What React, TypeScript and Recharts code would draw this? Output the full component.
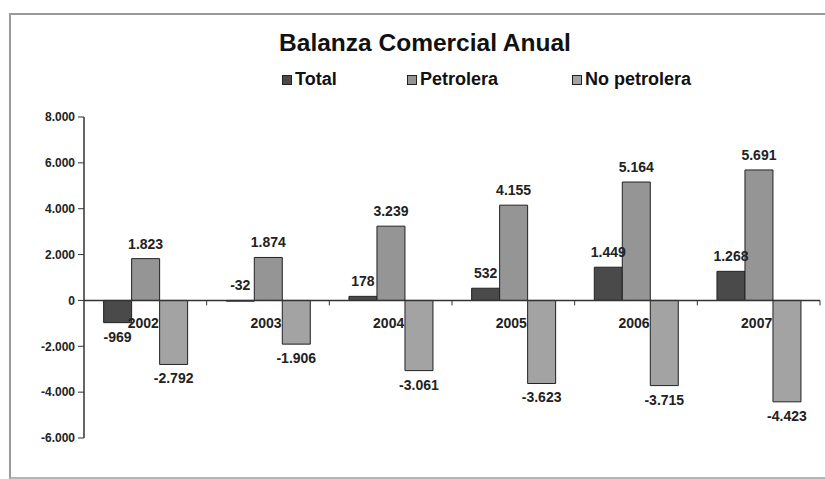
import React from "react";
import {
  ComposedChart,
  Bar,
  Line,
  XAxis,
  YAxis,
  ReferenceLine,
  LabelList,
} from "recharts";

const years = ["2002", "2003", "2004", "2005", "2006", "2007"];
const total = [-969, -32, 178, 532, 1449, 1268];
const petrolera = [1823, 1874, 3239, 4155, 5164, 5691];
const noPetrolera = [-2792, -1906, -3061, -3623, -3715, -4423];
const yTicks = [-6000, -4000, -2000, 0, 2000, 4000, 6000, 8000];

const seriesNames = ["Total", "Petrolera", "No petrolera"];
const seriesColors = ["#4a4a4a", "#959595", "#a3a3a3"];

const data = years.map((year, i) => ({
  year,
  total: total[i],
  petrolera: petrolera[i],
  noPetrolera: noPetrolera[i],
  axis: 0,
}));

const FONT = "'Liberation Sans', Arial, sans-serif";

// thousands with a dot, like the Spanish Excel original
const fmt = (v: number) => {
  const s = Math.abs(v).toString().replace(/\B(?=(\d{3})+(?!\d))/g, ".");
  return (v < 0 ? "-" : "") + s;
};

const ValueLabel = (props: any) => {
  const { x, y, width, height, value } = props;
  const top = Math.min(y, y + height);
  const bottom = Math.max(y, y + height);
  // tiny negative bars get their label above the zero line
  const above = value >= 0 || Math.abs(height) < 8;
  return (
    <text
      x={x + width / 2}
      y={above ? top - 15 : bottom + 14}
      textAnchor="middle"
      dominantBaseline="central"
      fontSize={14}
      fontWeight="bold"
      fill="#222"
      fontFamily={FONT}
    >
      {fmt(value)}
    </text>
  );
};

const YearLabel = (props: any) => {
  const { x, y, value } = props;
  return (
    <text
      x={x - 2}
      y={y + 23}
      textAnchor="middle"
      dominantBaseline="central"
      fontSize={14}
      fontWeight="bold"
      fill="#222"
      fontFamily={FONT}
    >
      {value}
    </text>
  );
};

// small tick marks on the zero axis, at the category boundaries
const AxisTick = (props: any) => {
  const { cx, cy, points, index } = props;
  const step = points && points.length > 1 ? points[1].x - points[0].x : 122.7;
  const x = cx + step / 2;
  return <line key={`tick-${index}`} x1={x} x2={x} y1={cy} y2={cy + 5} stroke="#333" />;
};

const legendLeft = [282, 407, 572];

export default function App() {
  return (
    <div
      style={{
        position: "fixed",
        left: 0,
        top: 0,
        width: 825,
        height: 479,
        overflow: "hidden",
        background: "#fff",
        fontFamily: FONT,
      }}
    >
      <div
        style={{
          position: "absolute",
          left: 9,
          top: 13,
          width: 814,
          height: 462,
          borderLeft: "2px solid #9a9a9a",
          borderTop: "2px solid #9a9a9a",
          borderBottom: "2px solid #b5b5b5",
        }}
      />
      <div
        style={{
          position: "absolute",
          left: 0,
          width: 850,
          top: 29,
          textAlign: "center",
          fontSize: 24.5,
          fontWeight: "bold",
          color: "#111",
        }}
      >
        Balanza Comercial Anual
      </div>
      {seriesNames.map((name, i) => (
        <div
          key={name}
          style={{
            position: "absolute",
            left: legendLeft[i],
            top: 69,
            display: "flex",
            alignItems: "center",
            gap: 3,
            fontSize: 18,
            fontWeight: "bold",
            color: "#111",
          }}
        >
          <span
            style={{
              display: "inline-block",
              width: 8,
              height: 8,
              background: seriesColors[i],
              border: "1px solid #222",
            }}
          />
          <span>{name}</span>
        </div>
      ))}
      <div style={{ position: "absolute", left: 0, top: 0 }}>
        <ComposedChart
          width={825}
          height={479}
          data={data}
          margin={{ top: 117, right: 5, bottom: 41, left: 8 }}
          barCategoryGap="16%"
          barGap={0}
        >
          <XAxis dataKey="year" hide />
          <YAxis
            width={76}
            domain={[-6000, 8000]}
            ticks={yTicks}
            interval={0}
            tickFormatter={fmt}
            tickSize={6}
            tickMargin={3}
            tick={{ fontSize: 12, fontWeight: "bold", fill: "#222", fontFamily: FONT }}
            axisLine={{ stroke: "#333", strokeWidth: 1.5 }}
            tickLine={{ stroke: "#333" }}
          />
          <Bar dataKey="total" fill={seriesColors[0]} stroke="#222" strokeWidth={1} isAnimationActive={false}>
            <LabelList dataKey="total" content={ValueLabel} />
          </Bar>
          <Bar dataKey="petrolera" fill={seriesColors[1]} stroke="#222" strokeWidth={1} isAnimationActive={false}>
            <LabelList dataKey="petrolera" content={ValueLabel} />
          </Bar>
          <Bar dataKey="noPetrolera" fill={seriesColors[2]} stroke="#222" strokeWidth={1} isAnimationActive={false}>
            <LabelList dataKey="noPetrolera" content={ValueLabel} />
          </Bar>
          <ReferenceLine y={0} stroke="#333" strokeWidth={1.5} />
          <Line
            dataKey="axis"
            stroke="none"
            dot={AxisTick}
            activeDot={false}
            legendType="none"
            isAnimationActive={false}
          >
            <LabelList dataKey="year" content={YearLabel} />
          </Line>
        </ComposedChart>
      </div>
    </div>
  );
}
